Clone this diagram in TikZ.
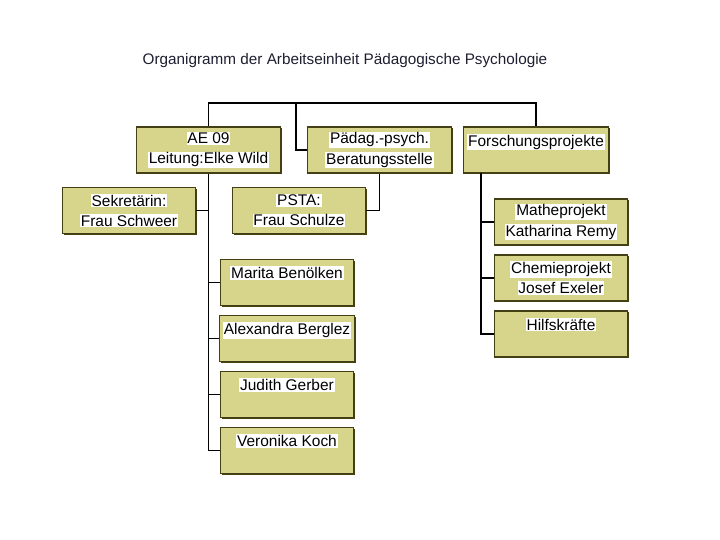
\documentclass[tikz,border=0pt]{standalone}
\usepackage{fontspec}
\setmainfont{Liberation Sans}
\usepackage{tikz}
\usetikzlibrary{shadows}
\definecolor{boxFill}{HTML}{D7D58C}
\definecolor{boxEdge}{HTML}{453F14}
\definecolor{titleInk}{HTML}{1E1E30}
\newcommand{\hlw}[1]{{\setlength{\fboxsep}{0.5pt}\colorbox{white}{#1}}}

\begin{document}
\begin{tikzpicture}[
  unit/.style={draw=boxEdge,fill=boxFill,line width=0.7pt,align=center,
    font=\fontsize{8.8}{11.4}\selectfont,inner sep=2pt,
    drop shadow={shadow xshift=0.7pt,shadow yshift=-0.7pt,fill=boxEdge,opacity=1}},
  wide/.style={unit,minimum width=2.88cm,minimum height=0.92cm},
  small/.style={unit,minimum width=2.66cm,minimum height=0.92cm},
  link/.style={line width=0.6pt,draw=black}
]
  \useasboundingbox (0,0) rectangle (14.4,10.8);

  % --- title ---
  \node[font=\fontsize{8.7}{11}\selectfont,text=titleInk] (title) at (6.9,9.58)
    {Organigramm der Arbeitseinheit Pädagogische Psychologie};

  % --- top row ---
  \node[wide] (AE)  at (4.17,7.8)  {\hlw{AE 09}\\\hlw{Leitung:Elke Wild}};
  \node[wide] (BST) at (7.59,7.8)  {\hlw{Pädag.-psych.}\\\hlw{Beratungsstelle}};
  \node[wide] (FP)  at (10.72,7.8) {\hlw{Forschungsprojekte}\\~};

  % --- AE 09 staff ---
  \node[small] (SEK) at (2.58,6.59) {\hlw{Sekretärin:}\\\hlw{Frau Schweer}};
  \node[small] (PSTA) at (5.98,6.59) {\hlw{PSTA:}\\\hlw{Frau Schulze}};
  \node[small] (MB) at (5.74,5.15) {\hlw{Marita Benölken}\\~};
  \node[small] (AB) at (5.74,4.03) {\hlw{Alexandra Berglez}\\~};
  \node[small] (JG) at (5.74,2.91) {\hlw{Judith Gerber}\\~};
  \node[small] (VK) at (5.74,1.79) {\hlw{Veronika Koch}\\~};

  % --- projects ---
  \node[small] (MP) at (11.22,6.36) {\hlw{Matheprojekt}\\\hlw{Katharina Remy}};
  \node[small] (CP) at (11.22,5.24) {\hlw{Chemieprojekt}\\\hlw{Josef Exeler}};
  \node[small] (HK) at (11.22,4.12) {\hlw{Hilfskräfte}\\~};

  % --- connectors ---
  \coordinate (top) at (4.17,8.74);
  \draw[link] (AE.north) -- (top) -| (FP.north);
  \draw[link] (5.92,8.74) |- (BST.west);
  \draw[link] (AE.south) -- (4.17,1.79) -- (VK.west);
  \draw[link] (SEK.east) -- (4.17,6.59);
  \draw[link] (4.17,5.15) -- (MB.west);
  \draw[link] (4.17,4.03) -- (AB.west);
  \draw[link] (4.17,2.91) -- (JG.west);
  \draw[link] (BST.south) |- (PSTA.east);
  \draw[link] (9.62,7.34) |- (HK.west);
  \draw[link] (9.62,6.36) -- (MP.west);
  \draw[link] (9.62,5.24) -- (CP.west);
\end{tikzpicture}
\end{document}
